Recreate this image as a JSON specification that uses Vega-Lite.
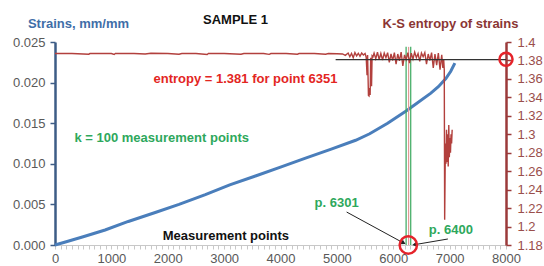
{
  "$schema": "https://vega.github.io/schema/vega-lite/v6.json",
  "width": 451,
  "height": 203,
  "autosize": "none",
  "padding": {"left": 55, "top": 42, "right": 38, "bottom": 21},
  "config": {
    "font": "Liberation Sans",
    "view": {"stroke": null},
    "axis": {"grid": false, "labelFont": "Liberation Sans", "labelFontSize": 13, "labelColor": "#595959", "titleFont": "Liberation Sans", "titleFontSize": 13, "titleFontWeight": "bold"}
  },
  "title": {"text": "SAMPLE 1", "anchor": "start", "frame": "group", "dx": 148, "offset": -10, "fontSize": 13, "fontWeight": "bold", "color": "#111111", "font": "Liberation Sans"},
  "datasets": {
    "strain": [
      {"x": 0, "s": 0}, {"x": 200, "s": 0.0004}, {"x": 500, "s": 0.00102}, {"x": 889, "s": 0.00185},
      {"x": 1300, "s": 0.0029}, {"x": 1778, "s": 0.004}, {"x": 2200, "s": 0.005}, {"x": 2667, "s": 0.0062},
      {"x": 3100, "s": 0.0074}, {"x": 3556, "s": 0.0085}, {"x": 4000, "s": 0.0096}, {"x": 4444, "s": 0.0107},
      {"x": 4900, "s": 0.0118}, {"x": 5333, "s": 0.0129}, {"x": 5582, "s": 0.0137}, {"x": 5900, "s": 0.015},
      {"x": 6228, "s": 0.0165}, {"x": 6370, "s": 0.0172}, {"x": 6667, "s": 0.0187}, {"x": 6800, "s": 0.0195},
      {"x": 6933, "s": 0.0205}, {"x": 7020, "s": 0.0214}, {"x": 7093, "s": 0.0224}
    ],
    "entropy": [
      {"x": 0, "e": 1.3875}, {"x": 300, "e": 1.3875}, {"x": 600, "e": 1.3868}, {"x": 620, "e": 1.3875},
      {"x": 1000, "e": 1.3875}, {"x": 1050, "e": 1.3865}, {"x": 1070, "e": 1.3875}, {"x": 1400, "e": 1.3875},
      {"x": 1600, "e": 1.387}, {"x": 1700, "e": 1.3878}, {"x": 2000, "e": 1.3875}, {"x": 2200, "e": 1.3868},
      {"x": 2250, "e": 1.3875}, {"x": 2500, "e": 1.3875}, {"x": 2700, "e": 1.3865}, {"x": 2720, "e": 1.3875},
      {"x": 3000, "e": 1.3875}, {"x": 3300, "e": 1.3868}, {"x": 3350, "e": 1.3875}, {"x": 3700, "e": 1.3875},
      {"x": 3800, "e": 1.3866}, {"x": 3830, "e": 1.3875}, {"x": 4100, "e": 1.3875}, {"x": 4300, "e": 1.3868},
      {"x": 4330, "e": 1.3875}, {"x": 4600, "e": 1.3875}, {"x": 4800, "e": 1.3868}, {"x": 4850, "e": 1.3875},
      {"x": 5000, "e": 1.3872}, {"x": 5100, "e": 1.387}, {"x": 5150, "e": 1.3855}, {"x": 5200, "e": 1.388},
      {"x": 5230, "e": 1.384}, {"x": 5260, "e": 1.3875}, {"x": 5290, "e": 1.383}, {"x": 5320, "e": 1.3885},
      {"x": 5350, "e": 1.385}, {"x": 5380, "e": 1.3878}, {"x": 5410, "e": 1.3845}, {"x": 5440, "e": 1.388},
      {"x": 5470, "e": 1.386}, {"x": 5500, "e": 1.3875}, {"x": 5520, "e": 1.3835}, {"x": 5535, "e": 1.364},
      {"x": 5545, "e": 1.386}, {"x": 5560, "e": 1.342}, {"x": 5570, "e": 1.3415}, {"x": 5580, "e": 1.35},
      {"x": 5590, "e": 1.3425}, {"x": 5600, "e": 1.383}, {"x": 5615, "e": 1.352}, {"x": 5625, "e": 1.385},
      {"x": 5640, "e": 1.384}, {"x": 5660, "e": 1.388}, {"x": 5690, "e": 1.382}, {"x": 5720, "e": 1.389},
      {"x": 5750, "e": 1.381}, {"x": 5780, "e": 1.3875}, {"x": 5810, "e": 1.3805}, {"x": 5840, "e": 1.388},
      {"x": 5870, "e": 1.383}, {"x": 5900, "e": 1.3885}, {"x": 5930, "e": 1.378}, {"x": 5960, "e": 1.387},
      {"x": 5990, "e": 1.38}, {"x": 6020, "e": 1.3885}, {"x": 6050, "e": 1.376}, {"x": 6080, "e": 1.387},
      {"x": 6110, "e": 1.3795}, {"x": 6140, "e": 1.389}, {"x": 6170, "e": 1.374}, {"x": 6200, "e": 1.386},
      {"x": 6230, "e": 1.381}, {"x": 6260, "e": 1.3885}, {"x": 6290, "e": 1.377}, {"x": 6320, "e": 1.388},
      {"x": 6350, "e": 1.3815}, {"x": 6380, "e": 1.389}, {"x": 6410, "e": 1.383}, {"x": 6440, "e": 1.3875},
      {"x": 6470, "e": 1.379}, {"x": 6500, "e": 1.388}, {"x": 6530, "e": 1.384}, {"x": 6560, "e": 1.3885},
      {"x": 6590, "e": 1.376}, {"x": 6620, "e": 1.387}, {"x": 6650, "e": 1.38}, {"x": 6680, "e": 1.3885},
      {"x": 6710, "e": 1.372}, {"x": 6740, "e": 1.387}, {"x": 6770, "e": 1.375}, {"x": 6800, "e": 1.388},
      {"x": 6830, "e": 1.37}, {"x": 6860, "e": 1.386}, {"x": 6880, "e": 1.372}, {"x": 6895, "e": 1.381},
      {"x": 6905, "e": 1.37}, {"x": 6912, "e": 1.2075}, {"x": 6925, "e": 1.29}, {"x": 6935, "e": 1.268},
      {"x": 6945, "e": 1.305}, {"x": 6955, "e": 1.27}, {"x": 6965, "e": 1.3}, {"x": 6975, "e": 1.265},
      {"x": 6985, "e": 1.31}, {"x": 6995, "e": 1.275}, {"x": 7005, "e": 1.296}, {"x": 7015, "e": 1.28},
      {"x": 7025, "e": 1.3}, {"x": 7035, "e": 1.29}, {"x": 7045, "e": 1.305}
    ]
  },
  "encoding": {
    "x": {"field": "x", "type": "quantitative", "scale": {"domain": [0, 8000], "nice": false},
      "axis": {"values": [0,100,200,300,400,500,600,700,800,900,1000,1100,1200,1300,1400,1500,1600,1700,1800,1900,2000,2100,2200,2300,2400,2500,2600,2700,2800,2900,3000,3100,3200,3300,3400,3500,3600,3700,3800,3900,4000,4100,4200,4300,4400,4500,4600,4700,4800,4900,5000,5100,5200,5300,5400,5500,5600,5700,5800,5900,6000,6100,6200,6300,6400,6500,6600,6700,6800,6900,7000,7100,7200,7300,7400,7500,7600,7700,7800,7900,8000],
        "labelExpr": "datum.value % 1000 === 0 ? format(datum.value, 'd') : ''",
        "labelOverlap": false, "labelFlush": false, "title": null,
        "domainColor": "#c8c8c8", "domainWidth": 1, "tickColor": "#c8c8c8", "tickSize": 4, "labelPadding": 3}}
  },
  "layer": [
    {
      "encoding": {
        "y": {"field": "s", "type": "quantitative", "scale": {"domain": [0, 0.025], "nice": false},
          "axis": {"values": [0, 0.005, 0.01, 0.015, 0.02, 0.025], "format": ".3f", "title": "Strains, mm/mm", "labelOverlap": false,
            "titleAngle": 0, "titleX": 23, "titleY": -19, "titleAlign": "center", "titleBaseline": "middle", "titleColor": "#3f6ea8",
            "domainColor": "#3d5c86", "domainWidth": 2.5, "tickColor": "#3d5c86", "tickWidth": 1.5, "tickSize": 5, "labelPadding": 5}}
      },
      "layer": [
        {
          "data": {"name": "strain"},
          "mark": {"type": "line", "color": "#4a7ebb", "strokeWidth": 3}
        },
        {
          "data": {"values": [{"x": 6228, "s": 0, "s2": 0.0244}, {"x": 6310, "s": 0, "s2": 0.0244}]},
          "mark": {"type": "rule", "color": "#3aa85e", "strokeWidth": 1.2},
          "encoding": {"y2": {"field": "s2"}}
        },
        {
          "data": {"values": [{"x": 6272, "s": 0, "s2": 0.0244}]},
          "mark": {"type": "rule", "color": "#e29a96", "strokeWidth": 1.2},
          "encoding": {"y2": {"field": "s2"}}
        },
        {
          "data": {"values": [{"x": 5173, "s": 0.00406, "x2": 6182, "s2": 0.00025}, {"x": 6969, "s": 0.00074, "x2": 6377, "s2": 0.00004}]},
          "mark": {"type": "rule", "color": "#222222", "strokeWidth": 1},
          "encoding": {"x2": {"field": "x2"}, "y2": {"field": "s2"}}
        },
        {
          "data": {"values": [{"x": 6182, "s": 0.00025, "dir": 28.5}, {"x": 6377, "s": 0.00004, "dir": 169.7}]},
          "mark": {"type": "point", "shape": "triangle-right", "filled": true, "color": "#222222", "size": 28, "opacity": 1},
          "encoding": {"angle": {"field": "dir", "type": "quantitative", "scale": null}}
        },
        {
          "data": {"values": [{"x": 6267, "s": 0}]},
          "mark": {"type": "point", "shape": "circle", "filled": false, "color": "#e5232a", "strokeWidth": 2.5, "size": 300, "opacity": 1}
        },
        {
          "data": {"values": [{"x": 3378, "s": 0.02044, "t": "entropy = 1.381  for point 6351"}]},
          "mark": {"type": "text", "color": "#e3261f", "fontSize": 13, "fontWeight": "bold", "align": "center", "baseline": "middle"},
          "encoding": {"text": {"field": "t"}}
        },
        {
          "data": {"values": [{"x": 1893, "s": 0.01318, "t": "k = 100 measurement  points"}, {"x": 4996, "s": 0.00517, "t": "p. 6301"}, {"x": 7022, "s": 0.00185, "t": "p. 6400"}]},
          "mark": {"type": "text", "color": "#2ea85c", "fontSize": 13, "fontWeight": "bold", "align": "center", "baseline": "middle"},
          "encoding": {"text": {"field": "t"}}
        },
        {
          "data": {"values": [{"x": 3031, "s": 0.00111, "t": "Measurement  points"}]},
          "mark": {"type": "text", "color": "#111111", "fontSize": 13, "fontWeight": "bold", "align": "center", "baseline": "middle"},
          "encoding": {"text": {"field": "t"}}
        }
      ]
    },
    {
      "encoding": {
        "y": {"field": "e", "type": "quantitative", "scale": {"domain": [1.18, 1.4], "nice": false},
          "axis": {"orient": "right", "values": [1.18,1.2,1.22,1.24,1.26,1.28,1.3,1.32,1.34,1.36,1.38,1.4], "labelExpr": "format(datum.value, '.2~f')", "labelOverlap": false,
            "title": "K-S entropy of  strains", "titleAngle": 0, "titleX": -56, "titleY": -19, "titleAlign": "center", "titleBaseline": "middle", "titleColor": "#8b3634",
            "domainColor": "#9b3a3a", "domainWidth": 2.5, "tickColor": "#9b3a3a", "tickWidth": 1.5, "tickSize": 5, "labelPadding": 6, "labelColor": "#9a4e4b"}}
      },
      "layer": [
        {
          "data": {"name": "entropy"},
          "mark": {"type": "line", "color": "#b2403d", "strokeWidth": 1.4}
        },
        {
          "data": {"values": [{"x": 4978, "x2": 8000, "e": 1.381}]},
          "mark": {"type": "rule", "color": "#333333", "strokeWidth": 1.2},
          "encoding": {"x2": {"field": "x2"}}
        },
        {
          "data": {"values": [{"x": 8000, "e": 1.3813}]},
          "mark": {"type": "point", "shape": "circle", "filled": false, "color": "#e5232a", "strokeWidth": 2.5, "size": 170, "opacity": 1}
        }
      ]
    }
  ],
  "resolve": {"scale": {"y": "independent"}}
}
